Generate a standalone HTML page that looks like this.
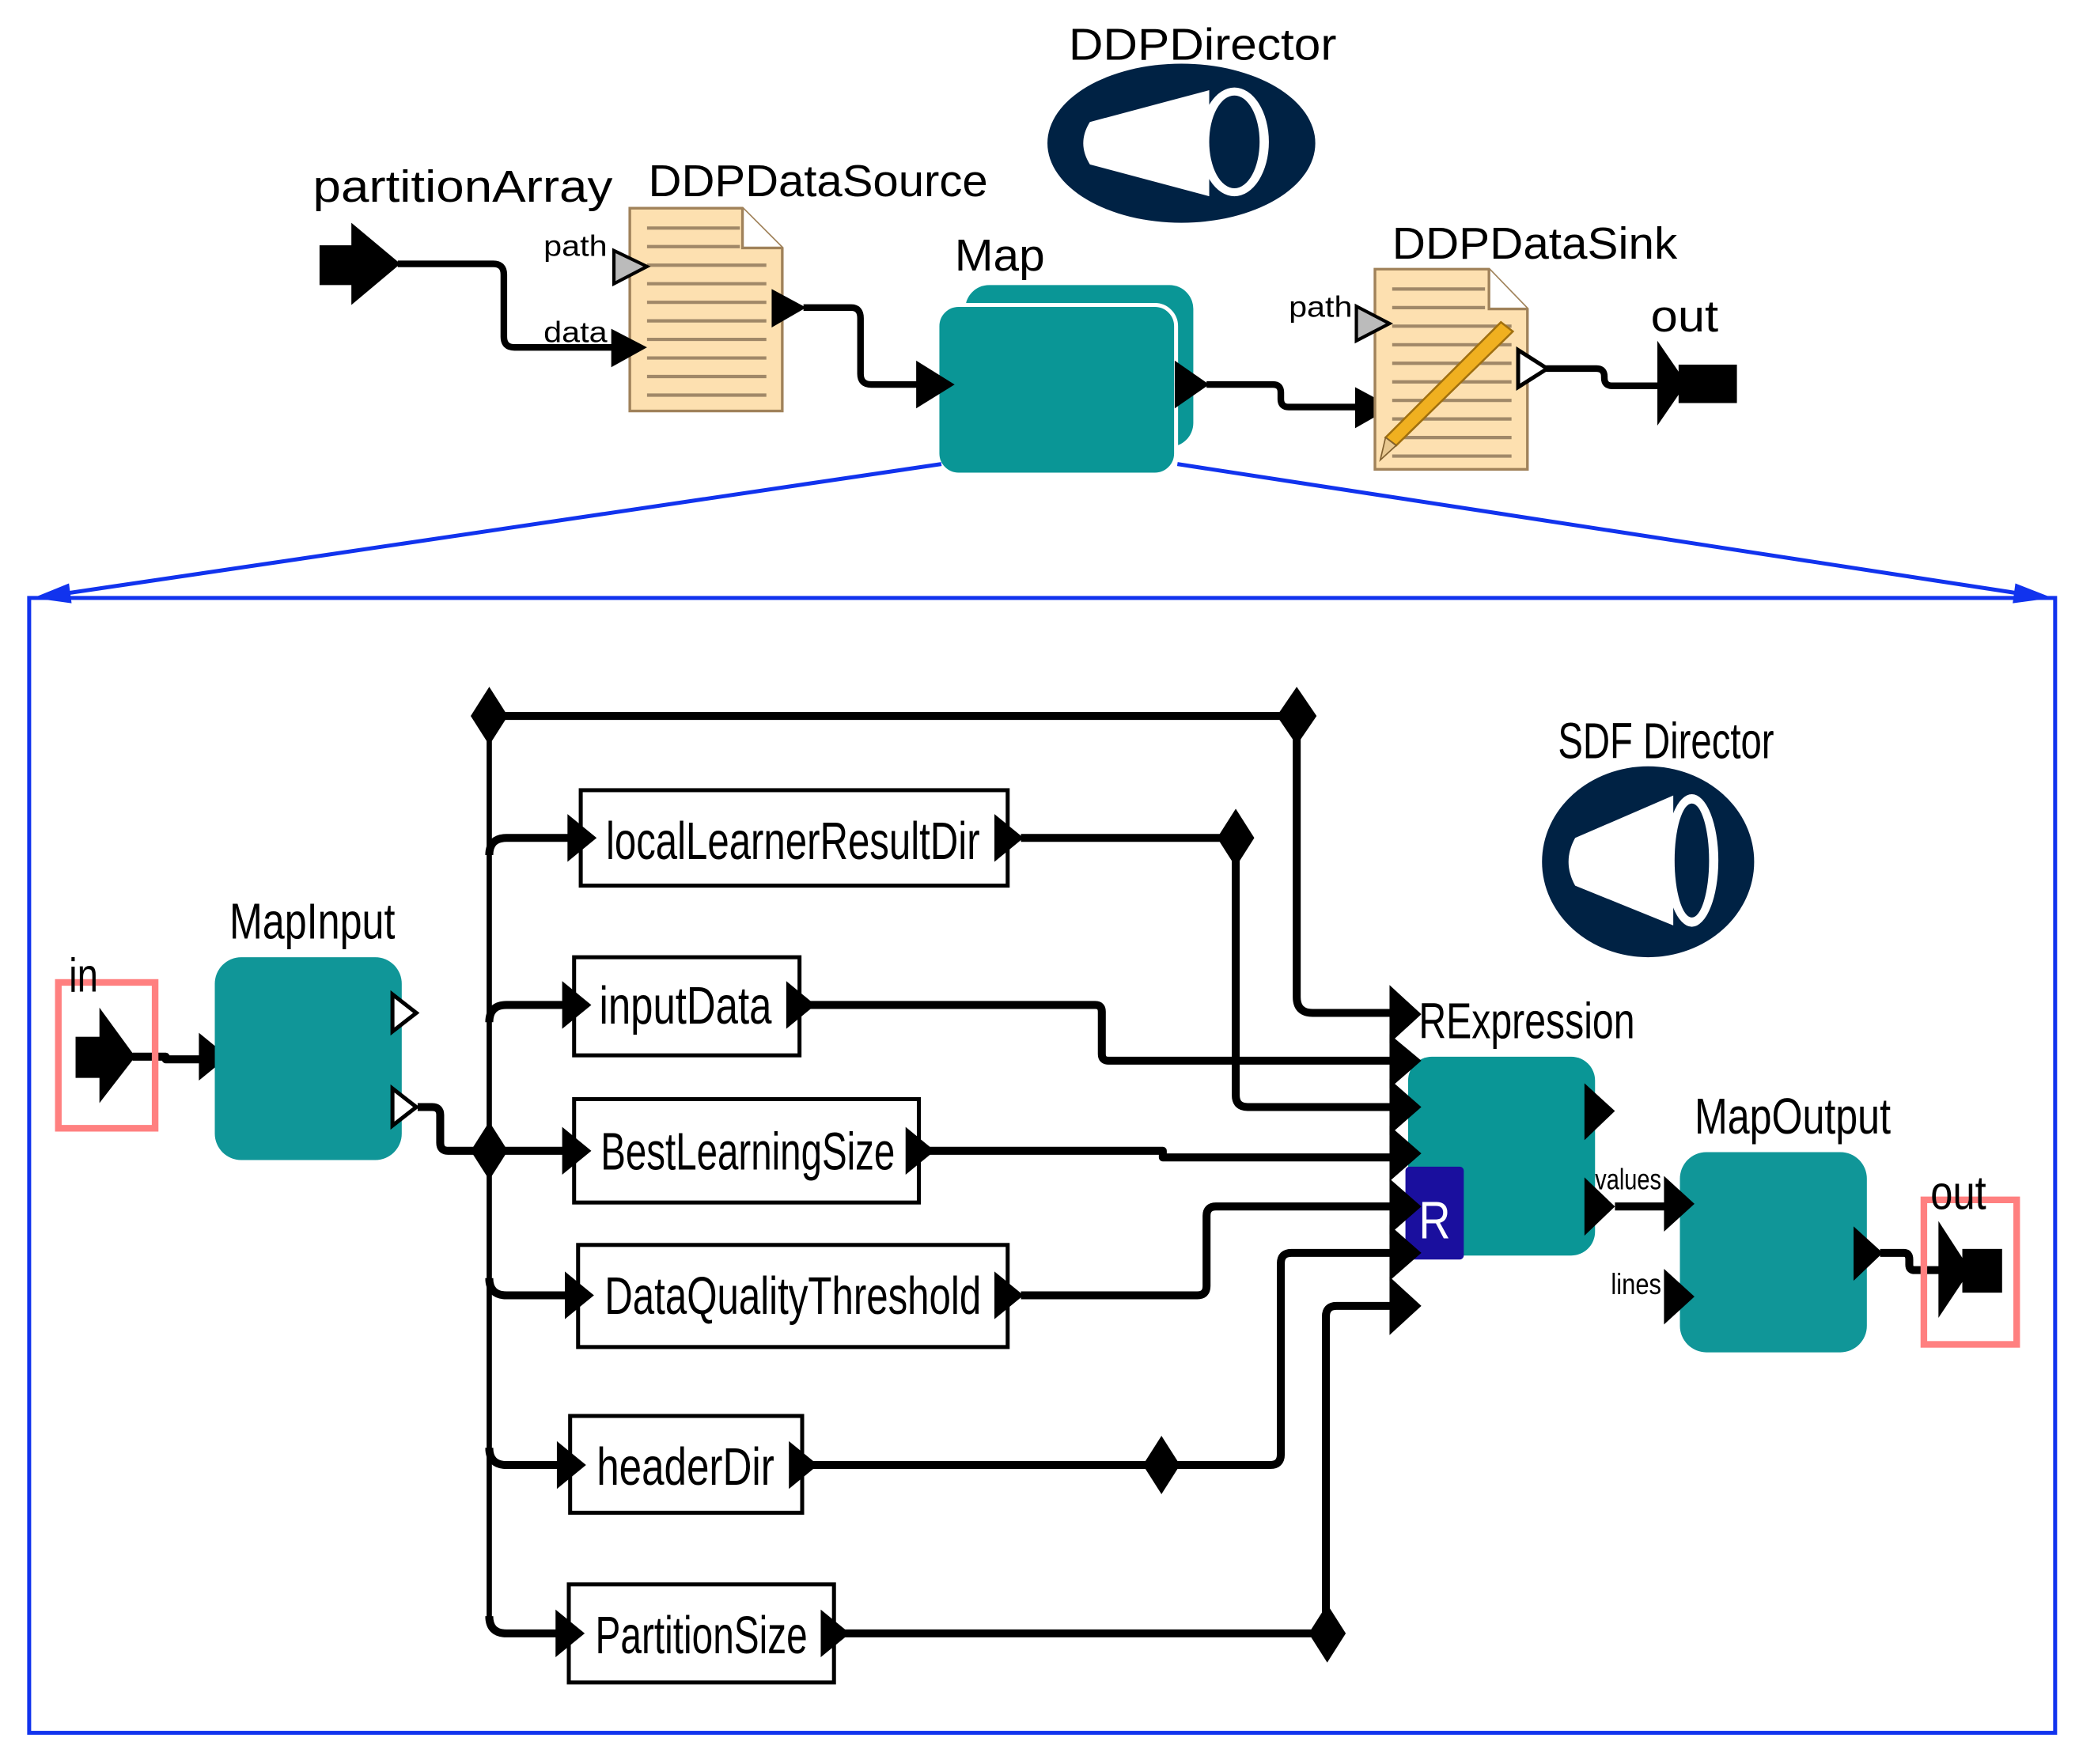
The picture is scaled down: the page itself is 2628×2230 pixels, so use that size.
<!DOCTYPE html>
<html><head><meta charset="utf-8"><style>html,body{margin:0;padding:0;background:#fff}svg{display:block}</style></head>
<body>
<svg width="2628" height="2230" viewBox="0 0 1568 1330.5" xmlns="http://www.w3.org/2000/svg" font-family="Liberation Sans, sans-serif">
<defs>
<symbol id="doclines"></symbol>
</defs>
<!-- top: DDPDirector -->
<text x="806" y="45" font-size="34" textLength="202" lengthAdjust="spacingAndGlyphs">DDPDirector</text>
<ellipse cx="891" cy="108" rx="101" ry="60" fill="#002244"/>
<path d="M822 92 L912 68 L912 148 L822 124 Q812 108 822 92Z" fill="#fff"/>
<ellipse cx="931" cy="107" rx="26" ry="41" fill="#fff"/>
<ellipse cx="931" cy="107" rx="19" ry="35" fill="#002244"/>
<text x="236" y="152" font-size="34" textLength="226" lengthAdjust="spacingAndGlyphs">partitionArray</text>
<text x="489" y="148" font-size="34" textLength="256" lengthAdjust="spacingAndGlyphs">DDPDataSource</text>
<text x="720" y="204" font-size="34" textLength="68" lengthAdjust="spacingAndGlyphs">Map</text>
<text x="1050" y="195" font-size="34" textLength="215" lengthAdjust="spacingAndGlyphs">DDPDataSink</text>
<text x="1245" y="250" font-size="34" textLength="51" lengthAdjust="spacingAndGlyphs">out</text>
<!-- wires top -->
<g fill="none" stroke="#000" stroke-width="5" stroke-linejoin="round">
<path d="M300 199 H372 Q380 199 380 207 V254 Q380 262 388 262 H465"/>
<path d="M606 232 H642 Q649 232 649 240 V282 Q649 290 657 290 H695"/>
<path d="M910 290 H960 Q966 290 966 296 V301 Q966 307 972 307 H1025"/>
<path d="M1166 278 H1204 Q1210 278 1210 284 V285 Q1210 291 1216 291 H1252"/>
</g>
<!-- partitionArray port -->
<rect x="241" y="185" width="26" height="30"/>
<polygon points="265,168 302,199 265,230"/>
<!-- DDPDataSource doc -->
<path d="M475 157 H560 L590 187 V310 H475Z" fill="#fde0b0" stroke="#a0825a" stroke-width="2"/>
<path d="M560 157 V187 H590" fill="#fff" stroke="#a0825a" stroke-width="2"/>
<g stroke="#a08868" stroke-width="2.5">
<line x1="488" y1="172" x2="558" y2="172"/><line x1="488" y1="186" x2="558" y2="186"/>
<line x1="488" y1="200" x2="578" y2="200"/><line x1="488" y1="214" x2="578" y2="214"/>
<line x1="488" y1="228" x2="578" y2="228"/><line x1="488" y1="242" x2="578" y2="242"/>
<line x1="488" y1="256" x2="578" y2="256"/><line x1="488" y1="270" x2="578" y2="270"/>
<line x1="488" y1="284" x2="578" y2="284"/><line x1="488" y1="298" x2="578" y2="298"/>
</g>
<polygon points="463,189 488,201 463,214" fill="#bbb" stroke="#000" stroke-width="2.5"/>
<polygon points="461,248 488,262 461,277"/>
<polygon points="582,218 608,232 582,247"/>
<text x="410" y="193" font-size="22" textLength="48" lengthAdjust="spacingAndGlyphs">path</text>
<text x="410" y="258" font-size="22" textLength="48" lengthAdjust="spacingAndGlyphs">data</text>
<!-- Map -->
<rect x="728" y="215" width="172" height="122" rx="18" fill="#0a9696"/>
<rect x="707" y="230" width="180" height="128" rx="16" fill="#0a9696" stroke="#fff" stroke-width="3"/>
<polygon points="691,272 720,290 691,308"/>
<polygon points="886,272 912,290 886,308"/>
<polygon points="1022,292 1050,307 1022,323"/>
<!-- DDPDataSink doc -->
<path d="M1037 203 H1123 L1152 233 V354 H1037Z" fill="#fde0b0" stroke="#a0825a" stroke-width="2"/>
<path d="M1123 203 V233 H1152" fill="#fff" stroke="#a0825a" stroke-width="2"/>
<g stroke="#a08868" stroke-width="2.5">
<line x1="1050" y1="218" x2="1120" y2="218"/><line x1="1050" y1="232" x2="1120" y2="232"/>
<line x1="1050" y1="246" x2="1140" y2="246"/><line x1="1050" y1="260" x2="1140" y2="260"/>
<line x1="1050" y1="274" x2="1140" y2="274"/><line x1="1050" y1="288" x2="1140" y2="288"/>
<line x1="1050" y1="302" x2="1140" y2="302"/><line x1="1050" y1="316" x2="1140" y2="316"/>
<line x1="1050" y1="330" x2="1140" y2="330"/><line x1="1050" y1="344" x2="1140" y2="344"/>
</g>
<polygon points="1132,243 1141,250 1053,336 1045,330" fill="#f0b020" stroke="#a07010" stroke-width="1.5"/>
<polygon points="1045,330 1053,336 1041,347" fill="#e8c890" stroke="#806030" stroke-width="1"/>
<polygon points="1023,231 1048,244 1023,257" fill="#bbb" stroke="#000" stroke-width="2.5"/>
<text x="972" y="239" font-size="22" textLength="48" lengthAdjust="spacingAndGlyphs">path</text>
<polygon points="1145,264 1167,278 1145,292" fill="#fff" stroke="#000" stroke-width="3"/>
<!-- out port top -->
<polygon points="1250,257 1272,289 1250,321"/>
<rect x="1266" y="275" width="44" height="29"/>
<!-- blue -->
<g stroke="#1133ee" stroke-width="3" fill="none">
<line x1="710" y1="350" x2="40" y2="449"/>
<line x1="888" y1="350" x2="1532" y2="449"/>
<rect x="22" y="451" width="1528" height="856"/>
</g>
<polygon points="25,451 52,440 54,455" fill="#1133ee"/>
<polygon points="1548,451 1520,440 1518,455" fill="#1133ee"/>
<!-- inner -->
<text x="1175" y="572" font-size="38" textLength="163" lengthAdjust="spacingAndGlyphs">SDF Director</text>
<ellipse cx="1243" cy="650" rx="80" ry="72" fill="#002244"/>
<path d="M1188 632 L1262 600 L1262 698 L1188 668 Q1178 650 1188 632Z" fill="#fff"/>
<ellipse cx="1276" cy="649" rx="20" ry="50" fill="#fff"/>
<ellipse cx="1276" cy="649" rx="13" ry="43" fill="#002244"/>

<g fill="none" stroke="#000" stroke-linejoin="round">
<line x1="369" y1="540" x2="369" y2="1220" stroke-width="4"/>
<g stroke-width="6">
<line x1="369" y1="540" x2="978" y2="540"/>
<path d="M978 540 V752 Q978 764 990 764 H1052"/>
<path d="M369 645 Q369 632 382 632 H432"/>
<path d="M369 771 Q369 758 382 758 H428"/>
<path d="M369 964 Q369 977 382 977 H430"/>
<path d="M369 1092 Q369 1105 382 1105 H426"/>
<path d="M369 1219 Q369 1232 382 1232 H424"/>
<path d="M315 835 H326 Q332 835 332 841 V862 Q332 868 338 868 H430"/>
<path d="M770 632 H932 V826 Q932 835 941 835 H1052"/>
<path d="M610 758 H826 Q831 758 831 763 V795 Q831 800 836 800 H1052"/>
<path d="M700 868 H877 V873 H1052"/>
<path d="M770 977 H903 Q910 977 910 970 V917 Q910 910 917 910 H1052"/>
<path d="M612 1105 H958 Q966 1105 966 1097 V953 Q966 945 974 945 H1052"/>
<path d="M636 1232 H1000 V993 Q1000 985 1008 985 H1052"/>
<path d="M1218 910 H1258"/>
<path d="M1418 945 H1436 Q1440 945 1440 950 V954 Q1440 958 1444 958 H1465"/>
<path d="M100 797 H125 V799 H152"/>
</g>
</g>
<!-- diamonds -->
<g>
<polygon points="369,518 383,540 369,562 355,540"/>
<polygon points="978,518 993,540 978,562 963,540"/>
<polygon points="932,610 946,632 932,654 918,632"/>
<polygon points="369,846 383,868 369,890 355,868"/>
<polygon points="876,1083 890,1105 876,1127 862,1105"/>
<polygon points="1001,1210 1015,1232 1001,1254 987,1232"/>
</g>
<!-- param boxes -->
<g fill="#fff" stroke="#000" stroke-width="3">
<rect x="438" y="596" width="322" height="72"/>
<rect x="433" y="722" width="170" height="74"/>
<rect x="433" y="829" width="260" height="78"/>
<rect x="436" y="939" width="324" height="77"/>
<rect x="430" y="1068" width="175" height="73"/>
<rect x="429" y="1195" width="200" height="74"/>
</g>
<g font-size="40">
<text x="457" y="648" textLength="282" lengthAdjust="spacingAndGlyphs">localLearnerResultDir</text>
<text x="452" y="772" textLength="130" lengthAdjust="spacingAndGlyphs">inputData</text>
<text x="453" y="882" textLength="222" lengthAdjust="spacingAndGlyphs">BestLearningSize</text>
<text x="456" y="991" textLength="284" lengthAdjust="spacingAndGlyphs">DataQualityThreshold</text>
<text x="450" y="1120" textLength="134" lengthAdjust="spacingAndGlyphs">headerDir</text>
<text x="449" y="1247" textLength="160" lengthAdjust="spacingAndGlyphs">PartitionSize</text>
</g>
<g>
<polygon points="428,614 450,632 428,650"/><polygon points="750,614 772,632 750,650"/>
<polygon points="424,740 446,758 424,776"/><polygon points="593,740 615,758 593,776"/>
<polygon points="424,850 446,868 424,886"/><polygon points="683,850 705,868 683,886"/>
<polygon points="426,959 448,977 426,995"/><polygon points="750,959 772,977 750,995"/>
<polygon points="420,1087 442,1105 420,1123"/><polygon points="595,1087 617,1105 595,1123"/>
<polygon points="419,1214 441,1232 419,1250"/><polygon points="619,1214 641,1232 619,1250"/>
</g>
<!-- RExpression -->
<text x="1070" y="783" font-size="38" textLength="163" lengthAdjust="spacingAndGlyphs">RExpression</text>
<rect x="1062" y="797" width="141" height="150" rx="18" fill="#0a9696"/>
<rect x="1060" y="880" width="44" height="70" rx="3" fill="#1a0f9e"/>
<text x="1070" y="934" font-size="40" fill="#fff" textLength="24" lengthAdjust="spacingAndGlyphs">R</text>
<g>
<polygon points="1048,743 1072,765 1048,787"/>
<polygon points="1048,780 1072,800 1048,821"/>
<polygon points="1048,814 1072,835 1048,856"/>
<polygon points="1048,849 1072,870 1048,891"/>
<polygon points="1048,889 1072,910 1048,931"/>
<polygon points="1048,924 1072,945 1048,966"/>
<polygon points="1048,963 1072,985 1048,1007"/>
<polygon points="1195,817 1218,838 1195,860"/>
<polygon points="1195,888 1218,910 1195,932"/>
</g>
<text x="1203" y="897" font-size="22" textLength="50" lengthAdjust="spacingAndGlyphs">values</text>
<text x="1215" y="976" font-size="22" textLength="38" lengthAdjust="spacingAndGlyphs">lines</text>
<!-- MapOutput -->
<text x="1278" y="855" font-size="38" textLength="148" lengthAdjust="spacingAndGlyphs">MapOutput</text>
<rect x="1267" y="869" width="141" height="151" rx="20" fill="#109698"/>
<polygon points="1255,887 1278,908 1255,929"/>
<polygon points="1255,957 1278,978 1255,999"/>
<polygon points="1398,925 1420,945 1398,966"/>
<rect x="1451" y="905" width="70" height="109" fill="none" stroke="#ff8080" stroke-width="5"/>
<text x="1456" y="912" font-size="36" textLength="42" lengthAdjust="spacingAndGlyphs">out</text>
<polygon points="1462,921 1486,958 1462,994"/>
<rect x="1480" y="942" width="30" height="33"/>
<!-- MapInput -->
<rect x="44" y="741" width="73" height="110" fill="none" stroke="#ff8080" stroke-width="5"/>
<text x="52" y="748" font-size="36" textLength="22" lengthAdjust="spacingAndGlyphs">in</text>
<rect x="57" y="782" width="20" height="31"/>
<polygon points="75,760 102,797 75,832"/>
<polygon points="150,779 172,797 150,815"/>
<text x="173" y="708" font-size="38" textLength="125" lengthAdjust="spacingAndGlyphs">MapInput</text>
<rect x="162" y="722" width="141" height="153" rx="20" fill="#109698"/>
<polygon points="296,750 314,764 296,778" fill="#fff" stroke="#000" stroke-width="3"/>
<polygon points="296,821 314,835 296,849" fill="#fff" stroke="#000" stroke-width="3"/>
</svg>
</body></html>
